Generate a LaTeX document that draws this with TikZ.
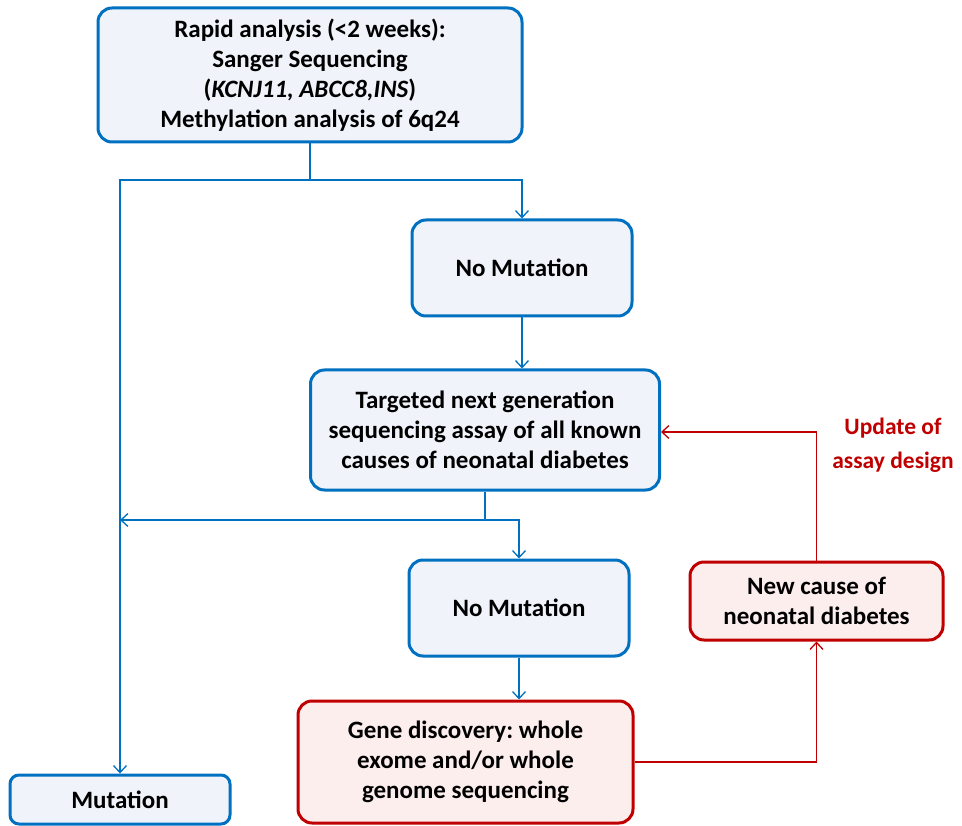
\documentclass[tikz,border=0pt]{standalone}
\usepackage{fontspec}
\setmainfont{Carlito}
\frenchspacing
\usetikzlibrary{arrows.meta,positioning}
\definecolor{bblue}{RGB}{0,112,192}
\definecolor{bfill}{RGB}{240,244,250}
\definecolor{rred}{RGB}{192,0,0}
\definecolor{rfill}{RGB}{253,238,238}
\tikzset{
  bbox/.style={draw=bblue, fill=bfill, line width=3pt, rounded corners=14pt, align=center,
    font=\fontsize{25}{30}\selectfont\bfseries, inner sep=0pt},
  rbox/.style={bbox, draw=rred, fill=rfill},
  arr/.style={draw=bblue, line width=1.5pt, -{Straight Barb[length=7pt,width=13pt,line width=1.3pt]}},
  ln/.style={draw=bblue, line width=1.5pt},
  rarr/.style={arr, draw=rred},
  rln/.style={ln, draw=rred},
}
\begin{document}
\begin{tikzpicture}[x=1pt,y=-1pt]
\useasboundingbox (0,0) rectangle (962,826);
\node[bbox, minimum width=424pt, minimum height=134pt] (top) at (310,75)
  {Rapid analysis (<2 weeks):\\Sanger Sequencing\\(\textit{KCNJ11, ABCC8,INS})\\Methylation analysis of 6q24};
\node[bbox, minimum width=220pt, minimum height=96pt] (nm1) at (522,268) {No Mutation};
\node[bbox, minimum width=349pt, minimum height=120pt] (tgt) at (485,430)
  {Targeted next generation\\sequencing assay of all known\\causes of neonatal diabetes};
\node[bbox, minimum width=220pt, minimum height=96pt] (nm2) at (519,608) {No Mutation};
\node[rbox, minimum width=335pt, minimum height=122pt] (gene) at (465.5,762)
  {Gene discovery: whole\\exome and/or whole\\genome sequencing};
\node[rbox, minimum width=253pt, minimum height=78pt] (new) at (816.5,601)
  {New cause of\\neonatal diabetes};
\node[bbox, minimum width=220pt, minimum height=49pt, rounded corners=9pt] (mut) at (120,799.5) {Mutation};
\node[align=center, text=rred, font=\fontsize{23.5}{34}\selectfont\bfseries] (upd) at (893,445)
  {Update of\\assay design};
% connectors
\coordinate (j1) at (top.south |- 0,180);
\draw[ln] (top.south) -- (j1);
\draw[arr] (j1) -| (nm1.north);
\draw[arr] (j1) -| (mut.north);
\draw[arr] (nm1.south) -- (nm1.south |- tgt.north);
\coordinate (j2) at (tgt.south |- 0,520);
\coordinate (j3) at (mut.north |- 0,520);
\draw[ln] (tgt.south) -- (j2);
\draw[arr] (j2) -- (j3);
\draw[arr] (j2) -| (nm2.north);
\draw[arr] (nm2.south) -- (nm2.south |- gene.north);
\draw[rarr] (gene.east) -| (new.south);
\coordinate (j4) at (new.north |- 0,432);
\draw[rln] (new.north) -- (j4);
\draw[rarr] (j4) -- (tgt.east |- j4);
\end{tikzpicture}
\end{document}
